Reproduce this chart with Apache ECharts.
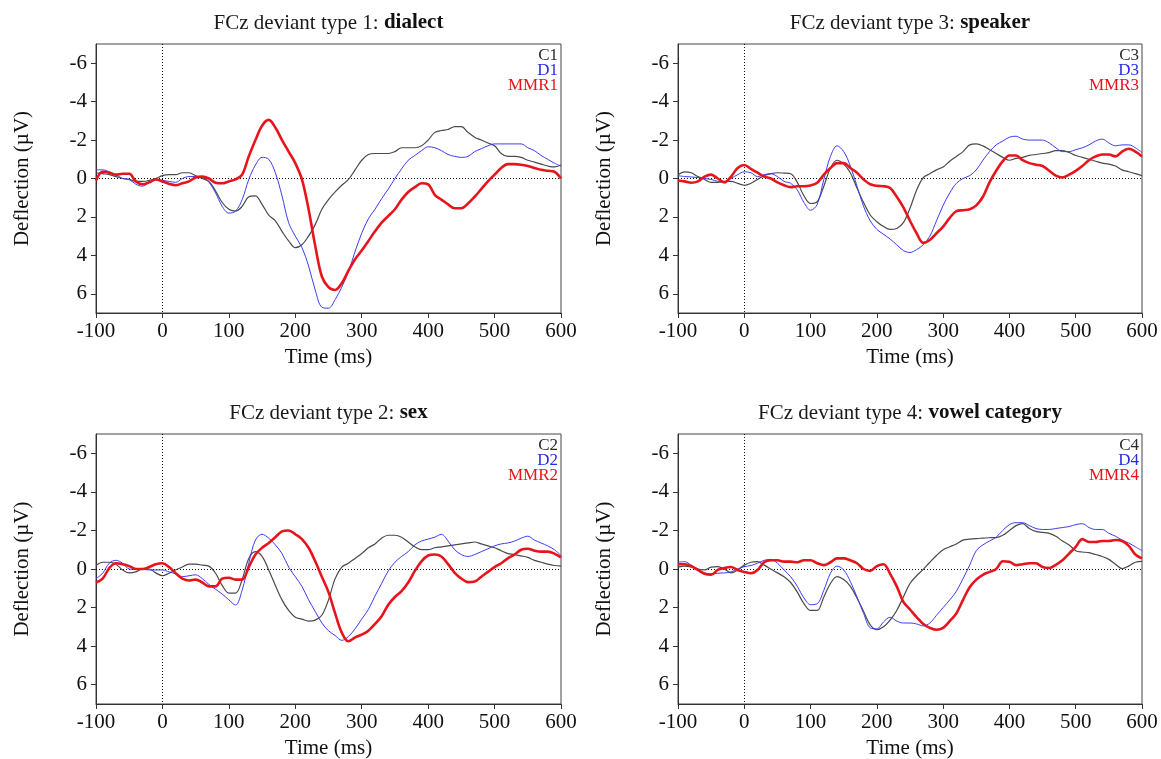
<!DOCTYPE html>
<html><head><meta charset="utf-8">
<script src="https://cdn.jsdelivr.net/npm/echarts@6/dist/echarts.min.js"></script>
<style>html,body{margin:0;padding:0;background:#fff}#chart{width:1161px;height:759px}</style>
</head><body><div id="chart"></div>
<script>
// Time axis (ms)
const times = [-100,-90,-80,-70,-60,-50,-40,-30,-20,-10,0,10,20,30,40,50,60,70,80,90,100,110,120,130,140,150,160,170,180,190,200,210,220,230,240,250,260,270,280,290,300,310,320,330,340,350,360,370,380,390,400,410,420,430,440,450,460,470,480,490,500,510,520,530,540,550,560,570,580,590,600];

// Deviant type 1: dialect
const c1 = [-0.3,-0.25,-0.2,-0.1,0,0.05,0.15,0.15,0.1,0, -0.15,-0.2,-0.2,-0.3,-0.3,-0.15,0,0.15,0.65,1.25, 1.6,1.7,1.45,0.95,0.9,1.35,1.9,2.2,2.75,3.25, 3.6,3.45,3.0,2.4,1.6,1.1,0.7,0.35,0.05,-0.45, -0.95,-1.25,-1.3,-1.3,-1.3,-1.4,-1.6,-1.6,-1.6,-1.7, -2.0,-2.4,-2.5,-2.55,-2.7,-2.7,-2.4,-2.15,-2.0,-1.85, -1.7,-1.3,-1.15,-1.15,-1.1,-0.95,-0.85,-0.75,-0.65,-0.6, -0.7];
const d1 = [-0.45,-0.45,-0.35,-0.2,0,0.05,0.3,0.4,0.2,0.05, 0.1,0.15,0.2,0,-0.1,-0.1,-0.08,0.2,0.75,1.45, 1.8,1.7,1.1,0.05,-0.7,-1.1,-1.0,-0.3,0.9,2.3, 3.0,3.6,4.55,5.8,6.7,6.75,6.3,5.65,4.85,3.8, 2.85,2.1,1.6,1.05,0.55,0.0,-0.5,-0.95,-1.2,-1.45, -1.65,-1.6,-1.45,-1.25,-1.15,-1.1,-1.15,-1.4,-1.55,-1.7, -1.8,-1.8,-1.8,-1.8,-1.8,-1.6,-1.45,-1.2,-1.0,-0.8, -0.65];
const mmr1 = [0.1,-0.35,-0.3,-0.2,-0.25,-0.25,0.15,0.3,0.2,0.05, 0.15,0.28,0.35,0.25,0.15,-0.05,-0.1,0,0.22,0.25, 0.15,0.05,-0.2,-1.15,-2.0,-2.75,-3.05,-2.65,-2.0,-1.4, -0.8,0.05,1.6,3.5,5.1,5.65,5.8,5.45,4.8,4.2, 3.75,3.25,2.75,2.3,1.95,1.6,1.1,0.7,0.45,0.25, 0.3,0.85,1.1,1.35,1.55,1.55,1.3,0.95,0.55,0.15, -0.2,-0.55,-0.75,-0.75,-0.72,-0.65,-0.55,-0.45,-0.4,-0.35, 0];

// Deviant type 2: sex
const c2 = [-0.2,-0.35,-0.35,-0.25,0.05,0.2,0.15,0,0,0.2, 0.35,0.22,0.05,-0.1,-0.25,-0.25,-0.2,-0.15,0.22,0.85, 1.25,1.25,0.55,-0.55,-0.9,-0.65,0.05,0.85,1.6,2.15, 2.5,2.6,2.7,2.65,2.4,1.6,0.5,-0.1,-0.3,-0.55, -0.8,-1.1,-1.3,-1.6,-1.75,-1.75,-1.65,-1.4,-1.15,-1.0, -1.0,-1.1,-1.15,-1.2,-1.25,-1.3,-1.35,-1.4,-1.3,-1.2, -1.1,-0.95,-0.8,-0.75,-0.68,-0.6,-0.45,-0.35,-0.25,-0.18, -0.15];
const d2 = [0.5,0.22,-0.3,-0.45,-0.3,0,0.02,0.02,0.05,0.05, 0.05,0.15,0.25,0.4,0.35,0.3,0.5,0.8,1.05,1.3, 1.6,1.87,1.1,-0.3,-1.5,-1.8,-1.6,-1.25,-0.8,-0.1, 0.4,0.9,1.6,2.2,2.8,3.2,3.45,3.7,3.5,3.1, 2.6,2.1,1.4,0.75,0.1,-0.35,-0.65,-0.9,-1.25,-1.45, -1.55,-1.65,-1.8,-1.45,-1.0,-0.75,-0.65,-0.75,-0.9,-1.05, -1.2,-1.3,-1.35,-1.45,-1.6,-1.7,-1.5,-1.35,-1.2,-1.0, -0.7];
const mmr2 = [0.7,0.5,-0.05,-0.3,-0.25,-0.15,0,0,-0.1,-0.25, -0.3,-0.1,0.22,0.5,0.6,0.55,0.7,0.9,0.9,0.5, 0.45,0.55,0.55,-0.1,-0.75,-1.1,-1.35,-1.65,-1.95,-2.0, -1.8,-1.55,-1.1,-0.4,0.4,1.2,2.3,3.3,3.75,3.55, 3.4,3.2,2.85,2.45,1.85,1.45,1.15,0.7,0.1,-0.4, -0.7,-0.75,-0.65,-0.25,0.2,0.5,0.68,0.65,0.4,0.15, -0.1,-0.3,-0.55,-0.75,-1.0,-1.05,-0.95,-0.9,-0.9,-0.8, -0.6];

// Deviant type 3: speaker
const c3 = [-0.2,-0.35,-0.3,-0.1,0.05,0.2,0.2,0.15,0.15,0.25, 0.35,0.25,0.05,-0.15,-0.25,-0.3,-0.28,-0.25,0.2,0.9, 1.3,1.2,0.4,-0.55,-0.95,-0.75,-0.3,0.5,1.25,1.9, 2.25,2.5,2.65,2.6,2.3,1.55,0.6,-0.05,-0.25,-0.45, -0.6,-0.9,-1.15,-1.4,-1.75,-1.8,-1.7,-1.5,-1.3,-1.1, -0.95,-1.05,-1.1,-1.2,-1.25,-1.3,-1.35,-1.45,-1.45,-1.35, -1.2,-1.1,-1.0,-0.9,-0.8,-0.75,-0.65,-0.45,-0.35,-0.25, -0.15];
const d3 = [-0.15,-0.1,-0.08,-0.05,0,0.05,0.15,0.2,0,-0.2, -0.35,-0.3,-0.1,-0.2,-0.25,-0.1,0.15,0.25,0.6,1.25, 1.65,1.35,0.05,-1.15,-1.7,-1.4,-0.65,0.4,1.45,2.2, 2.65,2.9,3.15,3.45,3.75,3.85,3.7,3.45,3.0,2.2, 1.4,0.75,0.25,0.0,-0.15,-0.45,-0.95,-1.4,-1.75,-1.95, -2.15,-2.2,-2.05,-2.0,-2.0,-2.0,-1.85,-1.6,-1.4,-1.4, -1.5,-1.6,-1.75,-1.95,-2.05,-1.85,-1.7,-1.75,-1.75,-1.6, -1.35];
const mmr3 = [0.1,0.15,0.22,0.15,-0.1,-0.2,0,0.2,-0.1,-0.55, -0.7,-0.5,-0.3,-0.1,0,0.2,0.35,0.45,0.4,0.4, 0.36,0.22,-0.2,-0.55,-0.8,-0.8,-0.55,-0.3,0.05,0.3, 0.38,0.4,0.5,0.95,1.5,2.2,2.85,3.35,3.2,2.85, 2.5,2.05,1.7,1.65,1.6,1.4,0.95,0.2,-0.4,-0.9, -1.2,-1.2,-0.95,-0.8,-0.72,-0.65,-0.4,-0.15,-0.05,-0.2, -0.4,-0.65,-0.95,-1.15,-1.25,-1.25,-1.15,-1.4,-1.55,-1.4, -1.15];

// Deviant type 4: vowel category
const c4 = [-0.1,-0.15,-0.1,0,0.05,-0.1,-0.12,0,0.2,0.05, -0.2,-0.35,-0.38,-0.2,0,0.2,0.4,0.7,1.2,1.8, 2.15,2.15,1.45,0.75,0.4,0.55,0.9,1.5,2.2,2.9, 3.15,3.0,2.65,2.15,1.45,0.75,0.35,0.02,-0.35,-0.7, -1.0,-1.15,-1.3,-1.5,-1.55,-1.58,-1.6,-1.62,-1.63,-1.75, -2.0,-2.25,-2.35,-2.1,-1.95,-1.9,-1.85,-1.7,-1.45,-1.25, -0.95,-0.88,-0.85,-0.75,-0.65,-0.5,-0.25,-0.02,-0.15,-0.35, -0.4];
const d4 = [-0.35,-0.38,-0.2,0,0.2,0.25,0.22,0.2,0.15,0, -0.12,-0.18,-0.3,-0.45,-0.5,-0.3,0.05,0.4,0.9,1.5, 1.85,1.8,1.1,0.22,-0.15,0.05,0.65,1.45,2.3,3.05, 3.1,2.75,2.5,2.7,2.8,2.8,2.85,2.95,2.8,2.4, 2.0,1.6,1.15,0.5,-0.2,-0.95,-1.25,-1.45,-1.65,-2.0, -2.3,-2.4,-2.4,-2.25,-2.1,-2.05,-2.05,-2.1,-2.15,-2.2, -2.3,-2.35,-2.15,-2.05,-2.05,-1.85,-1.7,-1.5,-1.35,-1.15, -0.95];
const mmr4 = [-0.25,-0.25,-0.15,0.05,0.25,0.3,0.05,-0.05,-0.1,0.05, 0.15,0.22,0.05,-0.35,-0.45,-0.45,-0.38,-0.38,-0.35,-0.45, -0.45,-0.3,-0.2,-0.35,-0.55,-0.55,-0.45,-0.3,0,0.1, -0.15,-0.25,0.25,0.9,1.7,2.1,2.5,2.85,3.05,3.15, 3.05,2.7,2.3,1.6,0.95,0.55,0.3,0.15,0,-0.4, -0.38,-0.2,-0.25,-0.3,-0.3,-0.1,-0.05,-0.22,-0.45,-0.8, -1.15,-1.55,-1.4,-1.4,-1.45,-1.45,-1.5,-1.45,-1.2,-0.75, -0.55];

// Panel order: top-left, top-right, bottom-left, bottom-right
const titlePrefixes = ['FCz deviant type 1: ', 'FCz deviant type 3: ', 'FCz deviant type 2: ', 'FCz deviant type 4: '];
const titleBold = ['dialect', 'speaker', 'sex', 'vowel category'];
const seriesNames = [['C1','D1','MMR1'], ['C3','D3','MMR3'], ['C2','D2','MMR2'], ['C4','D4','MMR4']];
const panelData = [[c1,d1,mmr1], [c3,d3,mmr3], [c2,d2,mmr2], [c4,d4,mmr4]];
const yTickValues = [-6,-4,-2,0,2,4,6];
const xTickValues = [-100,0,100,200,300,400,500,600];

// styling
const SERIF = 'Liberation Serif, Times New Roman, serif';
const lineColors = ['#4a4a4a', '#3c3cf5', '#e8141c'];
const textColors = ['#2a2a2a', '#2a2ae0', '#e8141c'];
const lineWidths = [1.2, 1, 2.6];
const grids = [
  {left:96, top:44, width:465, height:269},
  {left:678, top:44, width:464, height:269},
  {left:96, top:434, width:465, height:270},
  {left:678, top:434, width:464, height:270}
];

const option = {
  animation: false,
  backgroundColor: '#fff',
  grid: grids.map(g => Object.assign({show:true, borderColor:'#444', borderWidth:1, containLabel:false, outerBoundsMode:'none'}, g)),
  xAxis: grids.map((g,i) => ({
    type:'value', gridIndex:i, min:-100, max:600, interval:100,
    name:'Time (ms)', nameLocation:'middle', nameGap:34,
    nameTextStyle:{fontFamily:SERIF, fontSize:21, color:'#111'},
    axisLine:{show:true, onZero:false, lineStyle:{color:'#333', width:1}},
    axisTick:{show:true, inside:false, length:5, lineStyle:{color:'#333'}, customValues:xTickValues},
    axisLabel:{fontFamily:SERIF, fontSize:21, color:'#111', margin:8, customValues:xTickValues},
    splitLine:{show:false}
  })),
  yAxis: grids.map((g,i) => ({
    type:'value', gridIndex:i, min:-7, max:7, inverse:true,
    name:'Deflection (\u00b5V)', nameLocation:'middle', nameGap:63,
    nameTextStyle:{fontFamily:SERIF, fontSize:21, color:'#111'},
    axisLine:{show:true, onZero:false, lineStyle:{color:'#333', width:1}},
    axisTick:{show:true, inside:false, length:5, lineStyle:{color:'#333'}, customValues:yTickValues},
    axisLabel:{fontFamily:SERIF, fontSize:21, color:'#111', margin:9, customValues:yTickValues},
    splitLine:{show:false}
  })),
  series: [],
  graphic: []
};

panelData.forEach((arrs, p) => {
  arrs.forEach((arr, k) => {
    const s = {
      type:'line', name:seriesNames[p][k], xAxisIndex:p, yAxisIndex:p,
      data: times.map((t, j) => [t, arr[j]]),
      showSymbol:false, symbol:'none', smooth:0.35,
      lineStyle:{color:lineColors[k], width:lineWidths[k]},
      itemStyle:{color:lineColors[k]},
      z: 3 + k
    };
    if (k === 0) {
      s.markLine = {
        silent:true, symbol:['none','none'], label:{show:false},
        lineStyle:{type:[1,2], color:'#111', width:1},
        data:[{yAxis:0}, {xAxis:0}],
        z: 1
      };
    }
    option.series.push(s);
  });
  const g = grids[p];
  option.graphic.push({
    type:'text', x: g.left + g.width/2, y: g.top - 21,
    style:{
      text:'{n|' + titlePrefixes[p] + '}{b|' + titleBold[p] + '}',
      align:'center', verticalAlign:'middle', textAlign:'center', textVerticalAlign:'middle',
      rich:{
        n:{fontFamily:SERIF, fontSize:21, fill:'#1a1a1a'},
        b:{fontFamily:SERIF, fontSize:21, fontWeight:'bold', fill:'#111'}
      }
    }
  });
  seriesNames[p].forEach((nm, k) => {
    option.graphic.push({
      type:'text', x: g.left + g.width - 3, y: g.top + 12 + 14.6*k,
      style:{text:nm, fill:textColors[k], fontFamily:SERIF, fontSize:17,
        align:'right', verticalAlign:'middle', textAlign:'right', textVerticalAlign:'middle'}
    });
  });
});

const chart = echarts.init(document.getElementById('chart'), null, {renderer:'canvas'});
chart.setOption(option);
</script>
</body></html>
